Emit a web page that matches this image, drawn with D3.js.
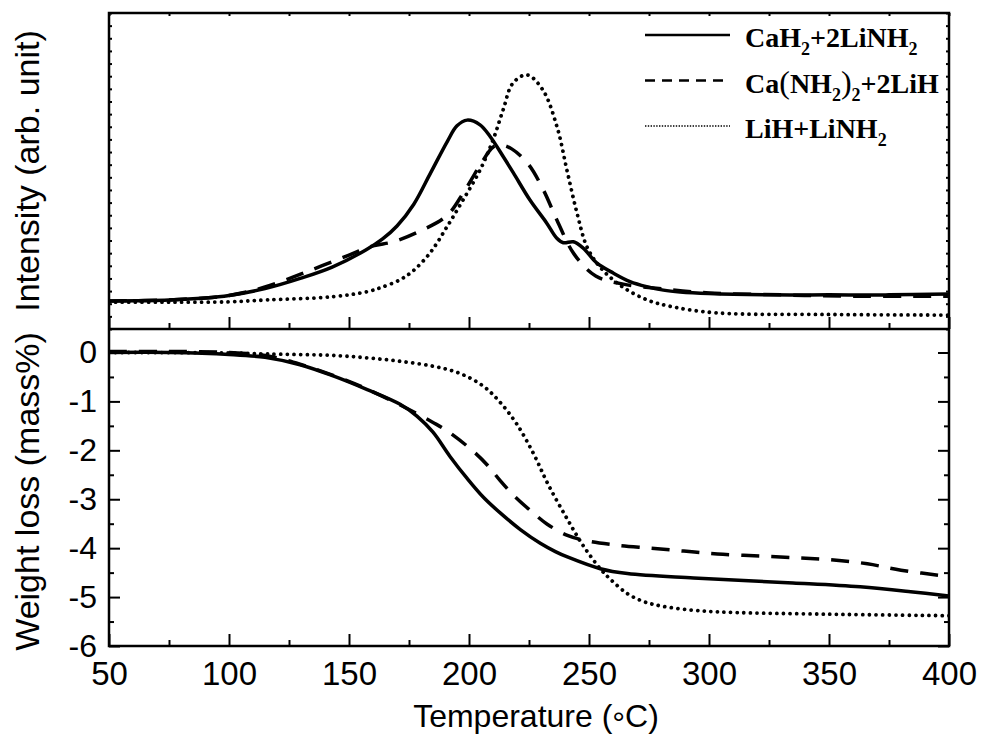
<!DOCTYPE html>
<html>
<head>
<meta charset="utf-8">
<script src="https://cdnjs.cloudflare.com/ajax/libs/d3/7.8.5/d3.min.js"></script>
<style>
body { margin: 0; background: #fff; }
svg { display: block; }
</style>
</head>
<body>
<div id="chart"></div>
<script>
// --- data ---
// top panel: intensity (arb. unit, 0-100 scale)
const tempTopA = [50, 75, 90, 100, 115, 130, 143, 157, 164, 170, 177, 184, 191, 195, 199.2, 204.6, 208.8, 214.3, 218.5, 225.4, 232.4, 236.5, 239.3, 243.5, 247.6, 253.2, 260.1, 267.1, 274, 281, 288, 300, 325, 350, 375, 400];
const intTopA = [8.9, 9.2, 9.8, 10.6, 12.8, 16.1, 19.6, 25.0, 28.5, 32.6, 39.5, 49.4, 59.4, 64.3, 66.1, 64.6, 60.9, 54.5, 49.4, 40.8, 33.5, 28.8, 27.3, 27.6, 25.6, 20.9, 17.7, 15.0, 13.4, 12.3, 11.7, 11.2, 10.8, 10.8, 10.8, 11.1];

const tempTopB = [50, 75, 100, 115, 132, 150, 160, 168.5, 179.6, 190.7, 197.9, 204.2, 210.1, 213.6, 217.8, 224.7, 231, 236.8, 243.8, 252.8, 264.3, 280.3, 300, 330, 360, 400];
const intTopB = [8.9, 9.2, 10.6, 13.3, 18.0, 23.4, 26.3, 27.6, 31.0, 35.8, 43.4, 51.3, 57.6, 58.2, 57.0, 52.2, 44.0, 34.2, 23.7, 16.8, 14.2, 12.7, 11.4, 10.8, 10.4, 10.4];

const tempTopC = [50, 75, 100, 116, 143, 157.6, 162.9, 171.3, 176.7, 183.8, 190.8, 197.5, 204.6, 210, 214.2, 218.3, 224.2, 230.8, 236.7, 240.8, 245, 249.2, 254.6, 262.9, 274.2, 285, 303.3, 350, 400];
const intTopC = [8.5, 8.5, 8.6, 9.2, 10.2, 11.8, 13.0, 15.6, 18.4, 24.1, 32.3, 40.8, 50.3, 59.8, 69.3, 77.8, 80.4, 75.6, 63.9, 50.3, 36.7, 25.9, 19.6, 13.9, 9.2, 7.0, 5.1, 4.6, 4.4];

// bottom panel: weight loss (mass%)
const tempBotA = [50, 75, 100, 115, 129.6, 143.4, 157.6, 171.3, 178.3, 185, 192, 199.3, 206, 213, 221.4, 229.7, 236, 241, 254.7, 266, 293.6, 335, 363, 384, 400];
const lossBotA = [0, 0, -0.04, -0.1, -0.25, -0.48, -0.76, -1.06, -1.30, -1.63, -2.12, -2.58, -2.96, -3.28, -3.62, -3.9, -4.07, -4.18, -4.42, -4.52, -4.61, -4.71, -4.79, -4.89, -4.98];

const tempBotB = [50, 75, 100, 115, 129.6, 143.4, 157.6, 174, 185, 190.8, 201.8, 208, 213, 218.6, 227, 232.6, 241, 249, 260, 275.6, 289.5, 303.5, 321, 338, 352, 366, 380, 400];
const lossBotB = [0.02, 0.02, 0, -0.06, -0.24, -0.47, -0.75, -1.14, -1.43, -1.6, -2.02, -2.32, -2.62, -2.92, -3.29, -3.51, -3.74, -3.85, -3.93, -4.0, -4.06, -4.12, -4.16, -4.2, -4.24, -4.32, -4.45, -4.58];

const tempBotC = [50, 100, 115.8, 143, 157.6, 171.3, 185, 196.3, 206, 213, 220, 227, 233, 241, 247.6, 254.7, 259, 266, 272.7, 279.7, 293.6, 307.6, 350, 400];
const lossBotC = [0, -0.01, -0.03, -0.06, -0.11, -0.18, -0.28, -0.43, -0.69, -1.02, -1.47, -2.08, -2.7, -3.41, -3.95, -4.42, -4.64, -4.93, -5.09, -5.18, -5.27, -5.31, -5.35, -5.38];

const xTicks = [50, 100, 150, 200, 250, 300, 350, 400];
const xMinorTicks = [75, 125, 175, 225, 275, 325, 375];
const yBotTicks = [-6, -5, -4, -3, -2, -1, 0];
const yBotMinorTicks = [-5.5, -4.5, -3.5, -2.5, -1.5, -0.5];

// legend parts: [text, isSubscript]
const legendA = [["CaH", false], ["2", true], ["+2LiNH", false], ["2", true]];
const legendB = [["Ca", false], ["(", false], ["NH", false], ["2", true], [")", false], ["2", true], ["+2LiH", false]];
const legendC = [["LiH+LiNH", false], ["2", true]];

// --- chart ---
const width = 982, height = 740;
const pLeft = 109, pRight = 949, pTop = 13, pMid = 329, pBottom = 646;
const sans = "'Liberation Sans', Arial, sans-serif";

const svg = d3.select("#chart")
    .append("svg")
    .attr("width", width)
    .attr("height", height);

const x = d3.scaleLinear().domain([50, 400]).range([pLeft, pRight]);
const yTop = d3.scaleLinear().domain([0, 100]).range([pMid, pTop]);
const yBot = d3.scaleLinear().domain([-6, 0.48]).range([pBottom, pMid]);

const styles = {
    solid: { dash: null, width: 3.5, cap: "butt" },
    dashed: { dash: "18 12", width: 3.5, cap: "butt" },
    dotted: { dash: "0.01 6.6", width: 3.8, cap: "round" }
};

// clip areas
const defs = svg.append("defs");
defs.append("clipPath").attr("id", "clipTop")
    .append("rect").attr("x", pLeft).attr("y", pTop).attr("width", pRight - pLeft).attr("height", pMid - pTop);
defs.append("clipPath").attr("id", "clipBot")
    .append("rect").attr("x", pLeft).attr("y", pMid).attr("width", pRight - pLeft).attr("height", pBottom - pMid);

function drawSeries(clipId, temps, vals, yScale, style) {
    const pts = temps.map((t, i) => [t, vals[i]]);
    const line = d3.line()
        .x(d => x(d[0]))
        .y(d => yScale(d[1]))
        .curve(d3.curveCatmullRom.alpha(0.5));
    svg.append("path")
        .attr("clip-path", `url(#${clipId})`)
        .attr("d", line(pts))
        .attr("fill", "none")
        .attr("stroke", "#000")
        .attr("stroke-width", style.width)
        .attr("stroke-linecap", style.cap)
        .attr("stroke-linejoin", "round")
        .attr("stroke-dasharray", style.dash);
}

drawSeries("clipTop", tempTopC, intTopC, yTop, styles.dotted);
drawSeries("clipTop", tempTopB, intTopB, yTop, styles.dashed);
drawSeries("clipTop", tempTopA, intTopA, yTop, styles.solid);

drawSeries("clipBot", tempBotC, lossBotC, yBot, styles.dotted);
drawSeries("clipBot", tempBotB, lossBotB, yBot, styles.dashed);
drawSeries("clipBot", tempBotA, lossBotA, yBot, styles.solid);

// axes
function addAxis(axis, tx, ty) {
    const g = svg.append("g")
        .attr("transform", `translate(${tx},${ty})`)
        .call(axis);
    g.select(".domain").remove();
    g.selectAll(".tick line").attr("stroke", "#000").attr("stroke-width", 2);
    g.selectAll("text")
        .attr("fill", "#000")
        .attr("font-family", sans);
    return g;
}

// x axes: bottom (labelled) and the panel separator
addAxis(d3.axisBottom(x).tickValues(xTicks).tickSize(-12).tickSizeOuter(0).tickPadding(16)
    .tickFormat(d => String(d)), 0, pBottom)
    .selectAll("text").attr("font-size", 33);
addAxis(d3.axisBottom(x).tickValues(xMinorTicks).tickSize(-6).tickSizeOuter(0).tickFormat(""), 0, pBottom);
addAxis(d3.axisBottom(x).tickValues(xTicks).tickSize(-12).tickSizeOuter(0).tickFormat(""), 0, pMid);
addAxis(d3.axisBottom(x).tickValues(xMinorTicks).tickSize(-6).tickSizeOuter(0).tickFormat(""), 0, pMid);
// tiny ticks along the top border
addAxis(d3.axisTop(x).tickValues(d3.range(50, 401, 25)).tickSize(-3).tickSizeOuter(0).tickFormat(""), 0, pTop);

// bottom panel y axes
addAxis(d3.axisLeft(yBot).tickValues(yBotTicks).tickSize(-11).tickSizeOuter(0).tickPadding(12)
    .tickFormat(d => String(d)), pLeft, 0)
    .selectAll("text").attr("font-size", 32);
addAxis(d3.axisLeft(yBot).tickValues(yBotMinorTicks).tickSize(-5).tickSizeOuter(0).tickFormat(""), pLeft, 0);
addAxis(d3.axisRight(yBot).tickValues(yBotTicks).tickSize(-11).tickSizeOuter(0).tickFormat(""), pRight, 0);
addAxis(d3.axisRight(yBot).tickValues(yBotMinorTicks).tickSize(-5).tickSizeOuter(0).tickFormat(""), pRight, 0);

// top panel y axes, only tiny ticks
addAxis(d3.axisLeft(yTop).tickValues(d3.range(0, 101, 4)).tickSize(-3).tickSizeOuter(0).tickFormat(""), pLeft, 0);
addAxis(d3.axisRight(yTop).tickValues(d3.range(0, 101, 4)).tickSize(-3).tickSizeOuter(0).tickFormat(""), pRight, 0);

// frames
svg.append("rect")
    .attr("x", pLeft).attr("y", pTop)
    .attr("width", pRight - pLeft).attr("height", pBottom - pTop)
    .attr("fill", "none").attr("stroke", "#000").attr("stroke-width", 2.5);
svg.append("line")
    .attr("x1", pLeft).attr("x2", pRight).attr("y1", pMid).attr("y2", pMid)
    .attr("stroke", "#000").attr("stroke-width", 2.5);

// axis titles
const xTitle = svg.append("text")
    .attr("x", 536)
    .attr("y", 727)
    .attr("text-anchor", "middle")
    .attr("font-family", sans)
    .attr("font-size", 32);
xTitle.append("tspan").text("Temperature (");
xTitle.append("tspan").attr("dy", 7).text("\u00B0");
xTitle.append("tspan").attr("dy", -7).text("C)");

svg.append("text")
    .attr("transform", `translate(39,${(pTop + pMid) / 2}) rotate(-90)`)
    .attr("text-anchor", "middle")
    .attr("font-family", sans)
    .attr("font-size", 34)
    .text("Intensity (arb. unit)");

svg.append("text")
    .attr("transform", `translate(39,${(pMid + pBottom) / 2 + 4}) rotate(-90)`)
    .attr("text-anchor", "middle")
    .attr("font-family", sans)
    .attr("font-size", 34)
    .text("Weight loss (mass%)");

// legend
const legendRows = [
    { parts: legendA, dash: null, w: 2.6 },
    { parts: legendB, dash: "10 7", w: 2.6 },
    { parts: legendC, dash: "1.4 1.4", w: 1.6 }
];

const legend = svg.append("g").attr("transform", "translate(645,47)");
legendRows.forEach((row, i) => {
    const gy = i * 45.5;
    legend.append("line")
        .attr("x1", 0).attr("x2", 85)
        .attr("y1", gy - 12).attr("y2", gy - 12)
        .attr("stroke", "#000")
        .attr("stroke-width", row.w)
        .attr("stroke-dasharray", row.dash);
    const t = legend.append("text")
        .attr("x", 100).attr("y", gy)
        .attr("font-family", "'Liberation Serif', 'Times New Roman', serif")
        .attr("font-weight", "bold")
        .attr("font-size", 28);
    let shifted = false;
    row.parts.forEach(([s, sub]) => {
        const span = t.append("tspan").text(s);
        if (sub && !shifted) { span.attr("dy", 8); shifted = true; }
        else if (!sub && shifted) { span.attr("dy", -8); shifted = false; }
        if (sub) span.attr("font-size", 18);
        if (s === "(" || s === ")") span.attr("font-weight", "normal").attr("font-size", 32);
    });
});
</script>
</body>
</html>
